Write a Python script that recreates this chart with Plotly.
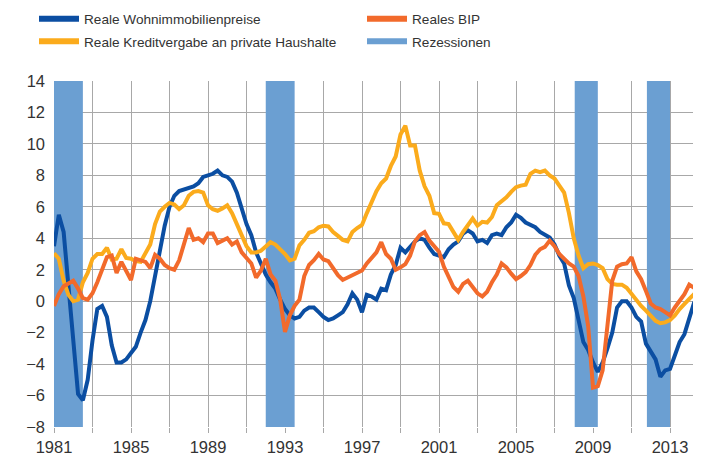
import plotly.graph_objects as go

start_year = 1981.0
n_quarters = 135

wohnimmobilienpreise = [
    3.5, 5.5, 4.4, 1.0,
    -3.0, -5.9, -6.3, -5.0,
    -2.5, -0.5, -0.3, -1.0,
    -2.8, -3.9, -3.9, -3.7,
    -3.3, -2.9, -2.0, -1.2,
    0.0, 1.7, 3.2, 4.8,
    6.0, 6.7, 7.0, 7.1,
    7.2, 7.3, 7.5, 7.9,
    8.0, 8.1, 8.3, 8.0,
    7.9, 7.6, 6.9, 5.9,
    4.9, 4.2, 3.1, 2.4,
    1.7, 1.2, 0.8, 0.1,
    -0.5, -0.9, -1.1, -1.0,
    -0.6, -0.4, -0.4, -0.7,
    -1.0, -1.2, -1.1, -0.9,
    -0.7, -0.2, 0.5, 0.1,
    -0.7, 0.4, 0.3, 0.1,
    0.8, 0.7, 1.7, 2.3,
    3.4, 3.1, 3.5, 3.8,
    4.0, 3.9, 3.4, 3.0,
    2.9, 2.8, 3.3, 3.6,
    3.8, 4.3, 4.5, 4.3,
    3.8, 3.9, 3.7, 4.2,
    4.3, 4.2, 4.7, 5.0,
    5.5, 5.3, 5.0, 4.85,
    4.7, 4.4, 4.2, 4.05,
    3.6, 2.9, 2.4, 1.0,
    0.2, -1.1, -2.6, -3.1,
    -3.9, -4.5, -3.9, -3.0,
    -2.0, -0.4, 0.0, 0.0,
    -0.4, -1.0, -1.3, -2.7,
    -3.2, -3.7, -4.8, -4.4,
    -4.3, -3.5, -2.6, -2.1,
    -1.1, -0.1, 0.25,
]

kreditvergabe = [
    3.05, 2.7, 1.3, 0.4,
    0.0, 0.1, 1.2, 1.8,
    2.7, 3.0, 3.0, 3.4,
    2.65, 2.7, 3.3, 2.75,
    2.7, 2.55, 2.5, 3.0,
    3.6, 4.9, 5.7, 6.0,
    6.25, 6.15, 5.85, 6.1,
    6.7, 6.95, 7.0, 6.9,
    6.1, 5.85, 5.75, 5.9,
    6.1, 5.6, 4.9, 4.1,
    3.5, 3.1, 3.1, 3.2,
    3.5, 3.75, 3.6, 3.3,
    3.0, 2.6, 2.7, 3.55,
    3.9, 4.35, 4.45, 4.7,
    4.8, 4.75, 4.4, 4.15,
    3.9, 3.8, 4.4, 4.65,
    4.85, 5.6, 6.3, 7.0,
    7.5, 7.8, 8.6, 9.2,
    10.6, 11.15, 9.9, 9.9,
    8.3, 7.3, 6.7, 5.6,
    5.55, 4.95, 4.9, 4.4,
    3.9, 4.4, 4.85, 5.25,
    4.8, 5.05, 5.0, 5.35,
    6.1, 6.35, 6.6, 6.95,
    7.25, 7.35, 7.4, 8.1,
    8.3, 8.2, 8.3, 8.0,
    7.8, 7.35, 6.9, 5.6,
    4.0, 2.9, 2.1, 2.35,
    2.4, 2.3, 2.1, 1.4,
    1.1, 1.05, 1.05, 0.85,
    0.45, 0.1, -0.3, -0.6,
    -0.9, -1.25, -1.4, -1.35,
    -1.2, -0.9, -0.5, -0.15,
    0.15, 0.45, 0.75,
]

bip = [
    -0.3, 0.45, 0.95, 1.15,
    1.3, 0.8, 0.2, 0.1,
    0.5, 1.2, 2.0, 2.8,
    2.9, 1.8, 2.5, 1.9,
    1.35, 2.7, 2.6, 2.5,
    2.1, 2.95, 2.7, 2.3,
    2.1, 2.0, 2.6, 3.7,
    4.65, 3.9, 4.0, 3.75,
    4.3, 4.3, 3.7, 3.85,
    4.0, 3.6, 3.8, 3.1,
    2.7, 2.4, 1.5, 1.95,
    2.7, 1.7, 1.3, 0.1,
    -1.95, -0.9, -0.3, 0.1,
    1.6, 2.3, 2.6, 3.0,
    2.65, 2.55, 2.1, 1.65,
    1.35, 1.5, 1.7, 1.8,
    1.95, 2.4, 2.75, 3.1,
    3.75, 3.0, 2.7, 2.0,
    2.15, 2.35, 2.9, 3.8,
    4.2, 4.4, 3.85, 3.45,
    3.15, 2.2, 1.6, 0.9,
    0.6, 1.1, 1.3, 0.9,
    0.5, 0.3, 0.6, 1.2,
    1.7, 2.4, 2.15, 1.75,
    1.4, 1.6, 1.85, 2.3,
    2.95, 3.3, 3.45, 3.85,
    3.5, 3.0, 2.7, 2.4,
    2.2, 1.6, 0.3, -1.6,
    -5.5, -5.4, -4.4, -1.7,
    1.3, 2.2, 2.35, 2.4,
    2.8, 1.9, 1.4, 0.65,
    -0.15, -0.4, -0.5, -0.7,
    -0.9, -0.4, 0.0, 0.45,
    1.05, 0.85, 0.85,
]

recession_start = [1981.0, 1992.0, 2008.05, 2011.8]
recession_end = [1982.5, 1993.5, 2009.25, 2013.0]

tick_years = list(range(1981, 2015, 2))
tick_labels = [str(y) if (y - 1981) % 4 == 0 else "" for y in tick_years]
y_ticks = list(range(-8, 15, 2))

name_wohn = "Reale Wohnimmobilienpreise"
name_bip = "Reales BIP"
name_kredit = "Reale Kreditvergabe an private Haushalte"
name_rez = "Rezessionen"

c_blue = "#0b4ea2"
c_orange = "#f26a2b"
c_yellow = "#fbab1c"
c_rec = "#6b9fd2"

quarters = [start_year + 0.25 * i for i in range(n_quarters)]

# page body has an 8px margin, so the figure is sized to fit the window
FIG_W, FIG_H = 693, 448

fig = go.Figure()

for s0, s1 in zip(recession_start, recession_end):
    fig.add_shape(type="rect", xref="x", yref="y", x0=s0, x1=s1, y0=-8, y1=14,
                  fillcolor=c_rec, line=dict(width=0), layer="between")

# data lines (bottom to top)
fig.add_trace(go.Scatter(x=quarters, y=wohnimmobilienpreise, mode="lines",
                         line=dict(color=c_blue, width=4), showlegend=False))
fig.add_trace(go.Scatter(x=quarters, y=kreditvergabe, mode="lines",
                         line=dict(color=c_yellow, width=4), showlegend=False))
fig.add_trace(go.Scatter(x=quarters, y=bip, mode="lines",
                         line=dict(color=c_orange, width=4), showlegend=False))

# legend entries: two single-row legends
left_w = 273
right_w = 120
for nm, col, lg, w in [(name_wohn, c_blue, "legend", left_w),
                       (name_bip, c_orange, "legend", right_w),
                       (name_kredit, c_yellow, "legend2", left_w),
                       (name_rez, c_rec, "legend2", right_w)]:
    fig.add_trace(go.Scatter(x=[None], y=[None], mode="lines", name=nm,
                             line=dict(color=col, width=6), legend=lg,
                             legendwidth=w))

tick_font = dict(family="Liberation Sans, Arial, sans-serif", size=16.5, color="#333333")
legend_font = dict(family="Liberation Sans, Arial, sans-serif", size=13.6, color="#333333")

def legend_cfg(ypx):
    return dict(
        orientation="h", xref="container", yref="container",
        x=26 / FIG_W, y=1 - ypx / FIG_H, xanchor="left", yanchor="middle",
        itemwidth=40, font=legend_font, bgcolor="rgba(0,0,0,0)",
        traceorder="normal",
    )

fig.update_layout(
    width=FIG_W, height=FIG_H,
    margin=dict(l=46, r=0, t=73, b=29, autoexpand=False),
    paper_bgcolor="white", plot_bgcolor="white",
    showlegend=True,
    legend=legend_cfg(11.0),
    legend2=legend_cfg(33.5),
    xaxis=dict(
        range=[1981, 2014.61], tickmode="array", tickvals=tick_years, ticktext=tick_labels,
        showgrid=True, gridcolor="#a8a8a8", gridwidth=1,
        ticks="outside", ticklen=5, tickcolor="#a8a8a8", tickwidth=1,
        zeroline=False, showline=False, tickfont=tick_font, ticklabelstandoff=0,
    ),
    yaxis=dict(
        range=[-8, 14], tickmode="array", tickvals=y_ticks,
        showgrid=True, gridcolor="#a8a8a8", gridwidth=1,
        zeroline=False, showline=False, ticks="", tickfont=tick_font,
        ticklabelstandoff=8,
    ),
)

fig.write_html("out.html")
